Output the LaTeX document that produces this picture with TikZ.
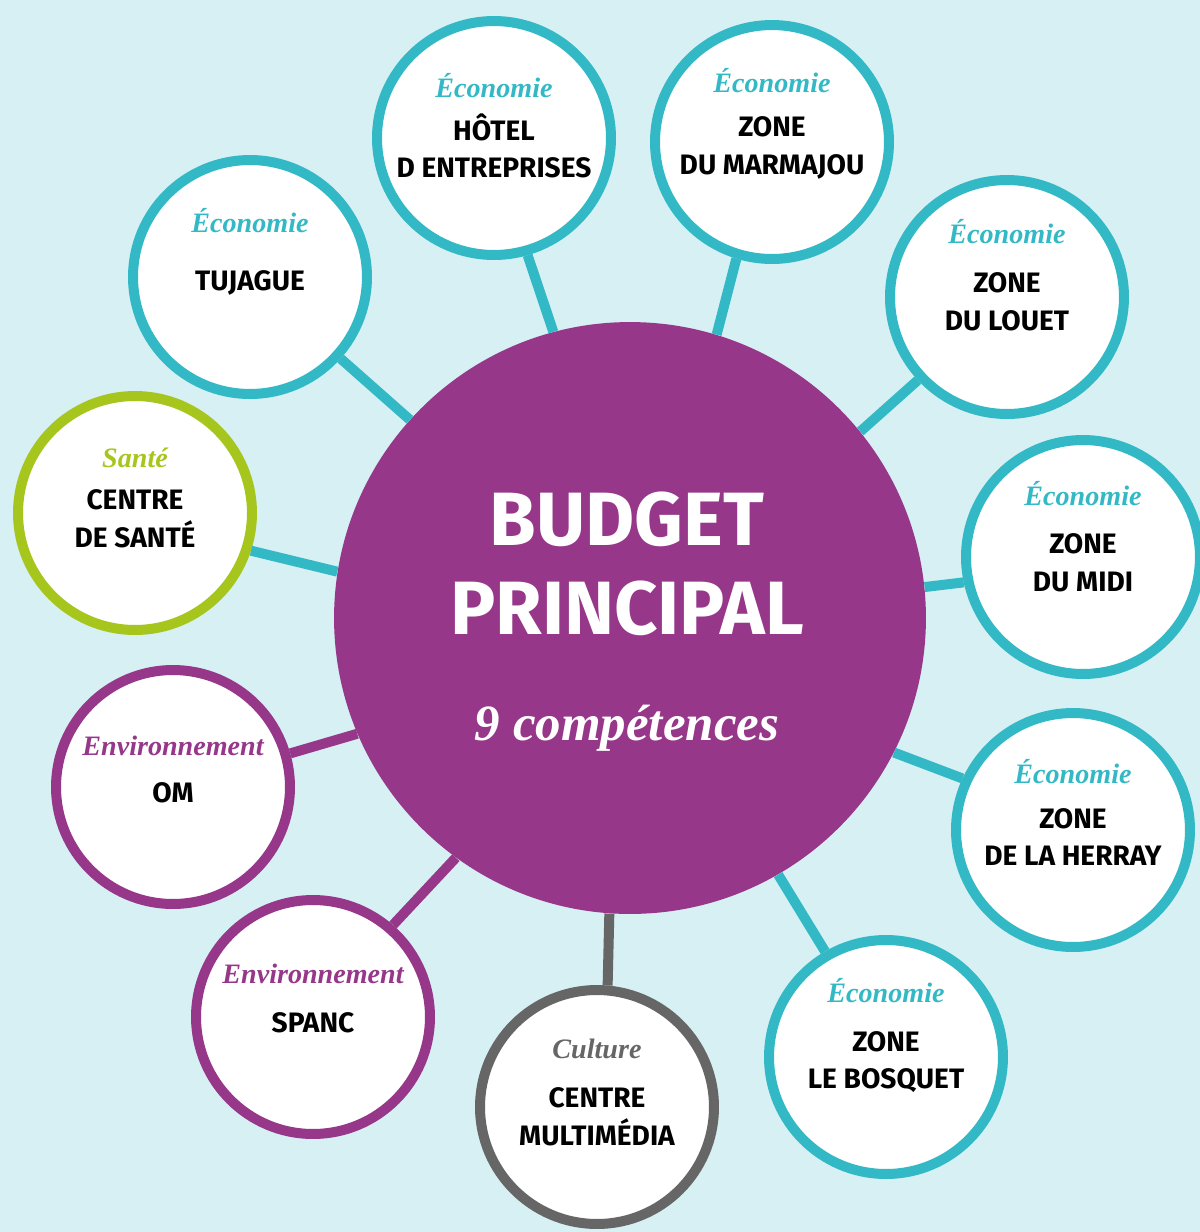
\documentclass[tikz,border=0pt]{standalone}
\usepackage{fontspec}
\setmainfont{Fira Sans}
\newfontfamily\scriptfam{Liberation Serif}
\definecolor{bgblue}{HTML}{D6F0F3}
\definecolor{ecoteal}{HTML}{32B9C5}
\definecolor{hubpurple}{HTML}{963789}
\definecolor{santegreen}{HTML}{A6C61E}
\definecolor{culturegrey}{HTML}{666666}
\tikzset{hub/.style={circle, fill=hubpurple, minimum size=11.84cm, inner sep=0pt},
  bubble/.style={circle, draw=#1, fill=white, line width=0.2cm, minimum size=4.68cm, inner sep=0pt},
  link/.style={draw=#1, line width=0.2cm},
  theme/.style={anchor=base, text=#1, font=\scriptfam\bfseries\itshape\fontsize{16}{18}\selectfont},
  sitename/.style={align=center, font=\bfseries\fontsize{16}{21.5}\selectfont}}

\begin{document}
\begin{tikzpicture}[x=0.02cm,y=-0.02cm]
   \useasboundingbox (0,0) rectangle (1200,1232);
   \clip (0,0) rectangle (1200,1232);
   \fill[bgblue] (0,0) rectangle (1200,1232);
   % centre
   \node[hub] (budget) at (630,618) {};
   % satellites
   \node[bubble=ecoteal] (hotel) at (494,138) {};
   \node[bubble=ecoteal] (marmajou) at (772,142) {};
   \node[bubble=ecoteal] (louet) at (1007,297) {};
   \node[bubble=ecoteal] (midi) at (1083,557) {};
   \node[bubble=ecoteal] (herray) at (1073,830) {};
   \node[bubble=ecoteal] (bosquet) at (886,1057) {};
   \node[bubble=culturegrey] (multimedia) at (597,1107) {};
   \node[bubble=hubpurple] (spanc) at (313,1017) {};
   \node[bubble=hubpurple] (om) at (173,787) {};
   \node[bubble=santegreen] (sante) at (135,513) {};
   \node[bubble=ecoteal] (tujague) at (250,277) {};
   % links
   \draw[link=ecoteal] (budget.105.5) -- (hotel.286);
   \draw[link=ecoteal] (budget.73) -- (marmajou.253);
   \draw[link=ecoteal] (budget.39) -- (louet.223);
   \draw[link=ecoteal] (budget.6) -- (midi.192);
   \draw[link=ecoteal] (budget.333) -- (herray.155);
   \draw[link=ecoteal] (budget.300) -- (bosquet.120);
   \draw[link=culturegrey] (budget.266.5) -- (multimedia.85);
   \draw[link=hubpurple] (budget.234) -- (spanc.49);
   \draw[link=hubpurple] (budget.203) -- (om.16);
   \draw[link=ecoteal] (budget.171.5) -- (sante.342);
   \draw[link=ecoteal] (budget.138) -- (tujague.318);
   % texts
   \node[align=center, text=white, font=\bfseries\fontsize{43}{51}\selectfont] (title) at (627,564) {BUDGET\\PRINCIPAL};
   \node[anchor=base, text=white, font=\scriptfam\bfseries\itshape\fontsize{29}{32}\selectfont] (count) at (627,740) {9 compétences};
   \node[theme=ecoteal] (hotel-cat) at (494,97) {Économie};
   \node[sitename] (hotel-txt) at (494,146) {HÔTEL\\D ENTREPRISES};
   \node[theme=ecoteal] (marmajou-cat) at (772,92) {Économie};
   \node[sitename] (marmajou-txt) at (772,148) {ZONE\\DU MARMAJOU};
   \node[theme=ecoteal] (louet-cat) at (1007,243) {Économie};
   \node[sitename] (louet-txt) at (1007,302) {ZONE\\DU LOUET};
   \node[theme=ecoteal] (midi-cat) at (1083,505) {Économie};
   \node[sitename] (midi-txt) at (1083,563) {ZONE\\DU MIDI};
   \node[theme=ecoteal] (herray-cat) at (1073,783) {Économie};
   \node[sitename] (herray-txt) at (1073,837) {ZONE\\DE LA HERRAY};
   \node[theme=ecoteal] (bosquet-cat) at (886,1002) {Économie};
   \node[sitename] (bosquet-txt) at (886,1062) {ZONE\\LE BOSQUET};
   \node[theme=culturegrey] (multimedia-cat) at (597,1058) {Culture};
   \node[sitename] (multimedia-txt) at (597,1117) {CENTRE\\MULTIMÉDIA};
   \node[theme=hubpurple] (spanc-cat) at (313,983) {Environnement};
   \node[sitename] (spanc-txt) at (313,1023) {SPANC};
   \node[theme=hubpurple] (om-cat) at (173,755) {Environnement};
   \node[sitename] (om-txt) at (173,793) {OM};
   \node[theme=santegreen] (sante-cat) at (135,467) {Santé};
   \node[sitename] (sante-txt) at (135,519) {CENTRE\\DE SANTÉ};
   \node[theme=ecoteal] (tujague-cat) at (250,232) {Économie};
   \node[sitename] (tujague-txt) at (250,283) {TUJAGUE};
\end{tikzpicture}
\end{document}
